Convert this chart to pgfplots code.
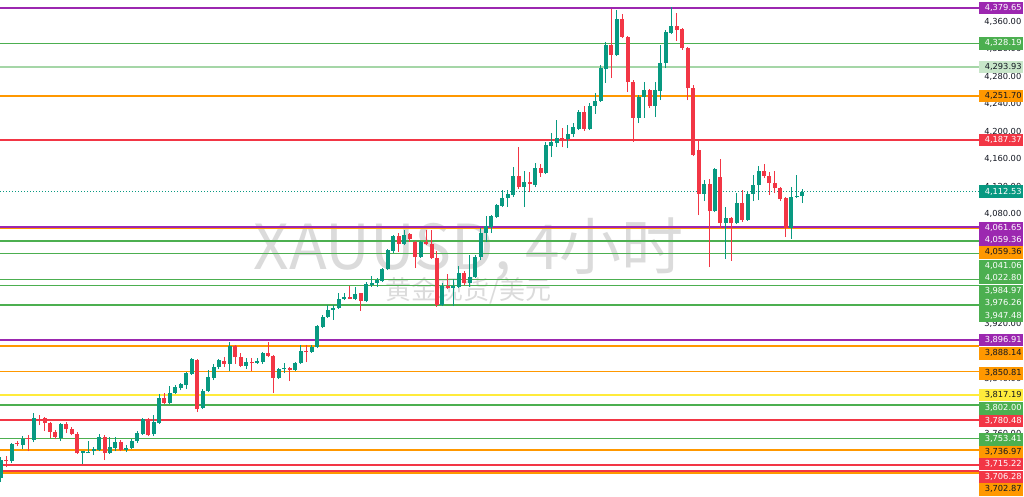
\documentclass[border=0pt]{standalone}
\usepackage{pgfplots}
\pgfplotsset{compat=1.18}
\usepackage{pgfplotstable}
\usepackage{fontspec}
\setmainfont{DejaVu Sans}
\newfontfamily\cjk{Noto Sans CJK SC}

\definecolor{cup}{HTML}{089981}
\definecolor{cdown}{HTML}{F23645}
\definecolor{lpurple}{HTML}{9C27B0}
\definecolor{lgreen}{HTML}{4CAF50}
\definecolor{llgreen}{HTML}{A5D6A7}
\definecolor{llgreenbox}{HTML}{C8E6C9}
\definecolor{lorange}{HTML}{FF9800}
\definecolor{lred}{HTML}{F23645}
\definecolor{lyellow}{HTML}{FFEB3B}
\definecolor{ctext}{HTML}{131722}

% 4h candles, i = bar index
\pgfplotstableread{
i o h l c
0 3696.0 3726.6 3690.2 3722.2
2 3720.8 3747.0 3717.9 3745.5
4 3744.0 3757.1 3738.2 3752.8
6 3751.3 3790.6 3748.4 3783.3
11 3754.2 3776.0 3749.9 3774.6
15 3732.4 3735.3 3716.4 3735.3
16 3732.4 3749.9 3732.4 3733.9
17 3735.3 3741.1 3729.5 3738.2
18 3736.8 3760.0 3735.3 3755.7
20 3732.4 3755.7 3731.0 3741.1
21 3739.7 3755.7 3735.3 3748.4
23 3736.8 3744.0 3733.9 3739.7
24 3739.7 3752.8 3738.2 3749.9
25 3749.9 3764.4 3747.0 3761.5
26 3760.0 3783.3 3758.6 3781.9
28 3760.0 3787.7 3757.1 3777.5
29 3776.0 3818.2 3774.6 3812.4
31 3805.1 3829.9 3803.7 3819.7
32 3819.7 3831.3 3818.2 3828.4
33 3827.0 3834.2 3824.0 3832.8
34 3831.3 3850.2 3825.5 3848.8
35 3847.3 3870.6 3845.9 3869.1
37 3797.9 3825.5 3796.4 3822.6
38 3822.6 3853.1 3821.1 3843.0
39 3841.5 3861.9 3838.6 3857.5
40 3857.5 3869.1 3854.6 3867.7
42 3861.9 3893.9 3851.7 3888.0
45 3859.0 3870.6 3854.6 3864.8
47 3863.3 3870.6 3861.9 3866.2
48 3864.8 3879.3 3861.9 3877.9
51 3841.5 3856.0 3840.0 3854.6
52 3854.6 3863.3 3848.8 3856.0
54 3853.1 3864.8 3851.7 3863.3
55 3863.3 3889.5 3861.9 3880.8
57 3879.3 3889.5 3877.9 3886.6
58 3886.6 3918.6 3885.1 3917.1
59 3915.7 3933.1 3914.2 3930.2
60 3930.2 3947.7 3928.8 3940.4
61 3940.4 3947.7 3925.9 3943.3
62 3943.3 3965.1 3941.9 3956.4
63 3956.4 3965.1 3954.9 3959.3
65 3956.4 3973.9 3954.9 3963.7
67 3953.5 3981.1 3952.0 3978.2
68 3976.8 3989.9 3973.9 3979.7
69 3979.7 3986.9 3973.9 3984.0
70 3982.6 4001.5 3981.1 4000.0
71 4000.0 4029.1 3998.6 4027.7
72 4026.2 4049.5 4023.3 4048.0
74 4036.4 4056.8 4034.9 4049.5
77 4017.5 4040.8 4016.0 4039.3
81 3947.7 3979.7 3946.2 3975.3
83 3972.4 3985.5 3946.2 3975.3
84 3973.9 4004.4 3972.4 3994.2
86 3979.7 4020.4 3973.9 3988.4
87 3988.4 4020.4 3986.9 4017.5
88 4017.5 4059.7 4013.1 4052.4
89 4052.4 4077.1 4039.3 4062.6
90 4061.1 4078.6 4052.4 4077.1
91 4075.7 4094.6 4074.2 4093.1
92 4091.7 4114.9 4090.2 4103.3
93 4103.3 4114.9 4090.2 4109.1
94 4107.7 4148.4 4104.8 4135.3
96 4119.3 4142.6 4090.2 4126.6
98 4122.2 4154.2 4119.3 4146.9
100 4139.7 4184.8 4138.2 4180.4
101 4178.9 4197.9 4162.9 4184.8
102 4183.3 4216.8 4177.5 4190.6
104 4189.1 4209.5 4176.0 4196.4
105 4196.4 4212.4 4192.0 4206.6
106 4203.7 4231.3 4202.2 4228.4
108 4203.7 4241.5 4202.2 4237.1
109 4237.1 4256.0 4225.5 4244.4
110 4244.4 4296.8 4242.9 4292.4
111 4290.9 4330.2 4270.6 4325.8
113 4311.3 4376.8 4309.8 4363.7
117 4219.7 4253.1 4212.4 4250.2
118 4250.2 4272.0 4219.7 4260.4
120 4237.1 4272.0 4221.1 4260.4
121 4258.9 4325.8 4245.8 4299.7
122 4299.7 4347.7 4292.4 4344.8
123 4343.3 4381.1 4341.8 4353.5
129 4109.1 4129.5 4098.9 4123.7
131 4084.4 4146.9 4082.9 4145.5
133 4066.9 4090.2 4014.6 4074.2
135 4066.9 4110.6 4065.5 4096.0
137 4071.3 4112.0 4069.9 4109.1
138 4109.1 4136.8 4098.9 4122.2
139 4122.2 4149.8 4100.4 4142.6
145 4059.7 4119.3 4043.7 4104.8
146 4104.8 4136.8 4103.3 4106.2
147 4106.2 4116.4 4096.0 4112.5
}\up

\pgfplotstableread{
i o h l c
1 3722.2 3728.0 3712.0 3720.8
3 3747.0 3749.9 3742.6 3745.5
5 3754.2 3758.6 3735.3 3752.8
7 3781.9 3787.7 3773.1 3780.4
8 3783.3 3784.8 3764.4 3776.0
9 3776.0 3777.5 3754.2 3763.0
10 3763.0 3765.9 3752.8 3755.7
12 3774.6 3777.5 3761.5 3767.3
13 3767.3 3770.2 3758.6 3760.0
14 3760.0 3763.0 3731.0 3732.4
19 3755.7 3758.6 3722.2 3732.4
22 3748.4 3751.3 3735.3 3736.8
27 3781.9 3783.3 3757.1 3758.6
30 3812.4 3819.7 3803.7 3805.1
36 3867.7 3869.1 3792.0 3796.4
41 3866.2 3872.0 3857.5 3861.9
43 3888.0 3889.5 3861.9 3872.0
44 3872.0 3877.9 3857.5 3859.0
46 3864.8 3870.6 3851.7 3863.3
49 3877.9 3893.9 3872.0 3873.5
50 3873.5 3875.0 3819.7 3841.5
53 3856.0 3857.5 3837.1 3853.1
56 3880.8 3889.5 3864.8 3879.3
64 3959.3 3975.3 3956.4 3956.4
66 3965.1 3965.1 3939.0 3953.5
73 4048.0 4052.4 4024.8 4036.4
75 4050.9 4052.4 4039.3 4043.7
76 4039.3 4040.8 4001.5 4017.5
78 4039.3 4056.8 4034.9 4036.4
79 4036.4 4056.8 4014.6 4016.0
80 4016.0 4026.2 3944.8 3947.7
82 3975.3 3992.8 3970.9 3972.4
85 3994.2 3997.1 3976.8 3979.7
95 4135.3 4177.5 4116.4 4119.3
97 4126.6 4141.1 4112.0 4123.7
99 4146.9 4152.8 4133.9 4139.7
103 4190.6 4205.1 4177.5 4189.1
107 4228.4 4237.1 4200.8 4203.7
112 4325.8 4378.2 4277.8 4311.3
114 4363.7 4370.9 4336.0 4337.5
115 4337.5 4338.9 4257.5 4272.0
116 4272.0 4274.9 4184.8 4219.7
119 4260.4 4261.8 4234.2 4237.1
124 4353.5 4372.4 4331.7 4347.7
125 4349.1 4350.6 4318.6 4321.5
126 4321.5 4322.9 4245.8 4263.3
127 4263.3 4267.7 4164.4 4165.9
128 4173.1 4187.7 4078.6 4109.1
130 4123.7 4130.9 4002.9 4084.4
132 4133.9 4160.0 4059.7 4066.9
134 4074.2 4075.7 4011.7 4066.9
136 4096.0 4114.9 4068.4 4071.3
140 4142.6 4152.8 4132.4 4135.3
141 4135.3 4141.1 4107.7 4125.1
142 4125.1 4142.6 4110.6 4117.8
143 4117.8 4119.3 4098.9 4101.8
144 4103.3 4104.8 4046.6 4059.7
}\down

\newcommand{\xa}{-0.18}
\newcommand{\xb}{179.45}
\newcommand{\level}[3]{\addplot[#1, line width=#2, forget plot] coordinates {(\xa,#3) (\xb,#3)};}
\newcommand{\plabel}[4]{\node[anchor=west, fill=#1, text=#2, inner ysep=0pt, inner xsep=1.5pt,
  minimum height=12.4pt, text width=41pt, align=right, font=\fontsize{8.3}{10}\selectfont]
  at (axis cs:\xb,#3) {#4};}

\begin{document}
\begin{tikzpicture}
\fill[white] (0,0) rectangle (1024pt,496pt);
% watermark
\node[text=black!14, font=\cjk\fontsize{62}{62}\selectfont, anchor=base] at (468.5pt,227pt) {XAUUSD, 4小时};
\node[text=black!14, font=\cjk\fontsize{26}{26}\selectfont] at (468.5pt,205.5pt) {黄金现货/美元};

\begin{axis}[
  at={(0,0)}, anchor=south west,
  scale only axis, width=979pt, height=496pt,
  xmin=\xa, xmax=\xb, ymin=3669.9, ymax=4391.3,
  axis line style={draw=none}, tick style={draw=none},
  major tick length=0pt,
  xtick=\empty,
  ytick={3720,3760,...,4360},
  yticklabel pos=right,
  yticklabel style={anchor=east, xshift=42.5pt, inner sep=0pt,
    font=\fontsize{8.3}{10}\selectfont, text=ctext,
    /pgf/number format/.cd, fixed, fixed zerofill, precision=2, 1000 sep={,}, assume math mode=true},
  clip mode=individual,
]
% levels
\level{lpurple}{1.7pt}{4379.65}
\level{lgreen}{1.7pt}{4328.19}
\level{llgreen}{1.2pt}{4293.93}
\level{lorange}{1.7pt}{4251.70}
\level{lred}{1.7pt}{4187.37}
\level{lpurple}{1.7pt}{4059.36}
\level{lorange}{1.7pt}{4059.36}
\level{lpurple}{1.7pt}{4061.65}
\level{lgreen}{1.7pt}{4041.06}
\level{lgreen}{1.7pt}{4022.80}
\level{lgreen}{1.7pt}{3984.97}
\level{lgreen}{1.7pt}{3976.26}
\level{lgreen}{1.7pt}{3947.48}
\level{lpurple}{1.7pt}{3896.91}
\level{lorange}{1.7pt}{3888.14}
\level{lorange}{1.7pt}{3850.81}
\level{lyellow}{1.7pt}{3817.19}
\level{lgreen}{1.7pt}{3802.00}
\level{lred}{1.7pt}{3780.48}
\level{lgreen}{1.7pt}{3753.41}
\level{lorange}{1.7pt}{3736.97}
\level{lred}{1.7pt}{3715.22}
\level{lred}{1.7pt}{3706.28}
\level{lorange}{1.7pt}{3702.87}
\addplot[cup, line width=1pt, dash pattern=on 1pt off 2pt, forget plot] coordinates {(\xa,4112.53) (\xb,4112.53)};

% wicks
\addplot[cup, line width=1pt, quiver={u=0, v={\thisrow{h}-\thisrow{l}}}] table[x=i, y=l] {\up};
\addplot[cdown, line width=1pt, quiver={u=0, v={\thisrow{h}-\thisrow{l}}}] table[x=i, y=l] {\down};
% bodies
\addplot[cup, line width=4pt, quiver={u=0, v={max(\thisrow{c}-\thisrow{o},1.5)}}] table[x=i, y=o] {\up};
\addplot[cdown, line width=4pt, quiver={u=0, v={max(\thisrow{o}-\thisrow{c},1.5)}}] table[x=i, y=c] {\down};

% price labels
\plabel{lpurple}{white}{4379.65}{4,379.65}
\plabel{lgreen}{white}{4328.19}{4,328.19}
\plabel{llgreenbox}{ctext}{4293.93}{4,293.93}
\plabel{lorange}{ctext}{4251.70}{4,251.70}
\plabel{lred}{white}{4187.37}{4,187.37}
\plabel{cup}{white}{4112.53}{4,112.53}
\plabel{lpurple}{white}{4059.2}{4,061.65}
\plabel{lpurple}{white}{4042.2}{4,059.36}
\plabel{lorange}{ctext}{4024.3}{4,059.36}
\plabel{lgreen}{white}{4004.4}{4,041.06}
\plabel{lgreen}{white}{3987.0}{4,022.80}
\plabel{lgreen}{white}{3968.5}{3,984.97}
\plabel{lgreen}{white}{3950.1}{3,976.26}
\plabel{lgreen}{white}{3932.1}{3,947.48}
\plabel{lpurple}{white}{3896.91}{3,896.91}
\plabel{lorange}{ctext}{3877.4}{3,888.14}
\plabel{lorange}{ctext}{3848.3}{3,850.81}
\plabel{lyellow}{ctext}{3817.19}{3,817.19}
\plabel{lgreen}{white}{3797.4}{3,802.00}
\plabel{lred}{white}{3779.4}{3,780.48}
\plabel{lgreen}{white}{3752.3}{3,753.41}
\plabel{lorange}{ctext}{3734.3}{3,736.97}
\plabel{lred}{white}{3716.4}{3,715.22}
\plabel{lred}{white}{3697.1}{3,706.28}
\plabel{lorange}{ctext}{3679.6}{3,702.87}
\end{axis}
\pgfresetboundingbox
\useasboundingbox (0,0) rectangle (1024pt,496pt);
\end{tikzpicture}
\end{document}
